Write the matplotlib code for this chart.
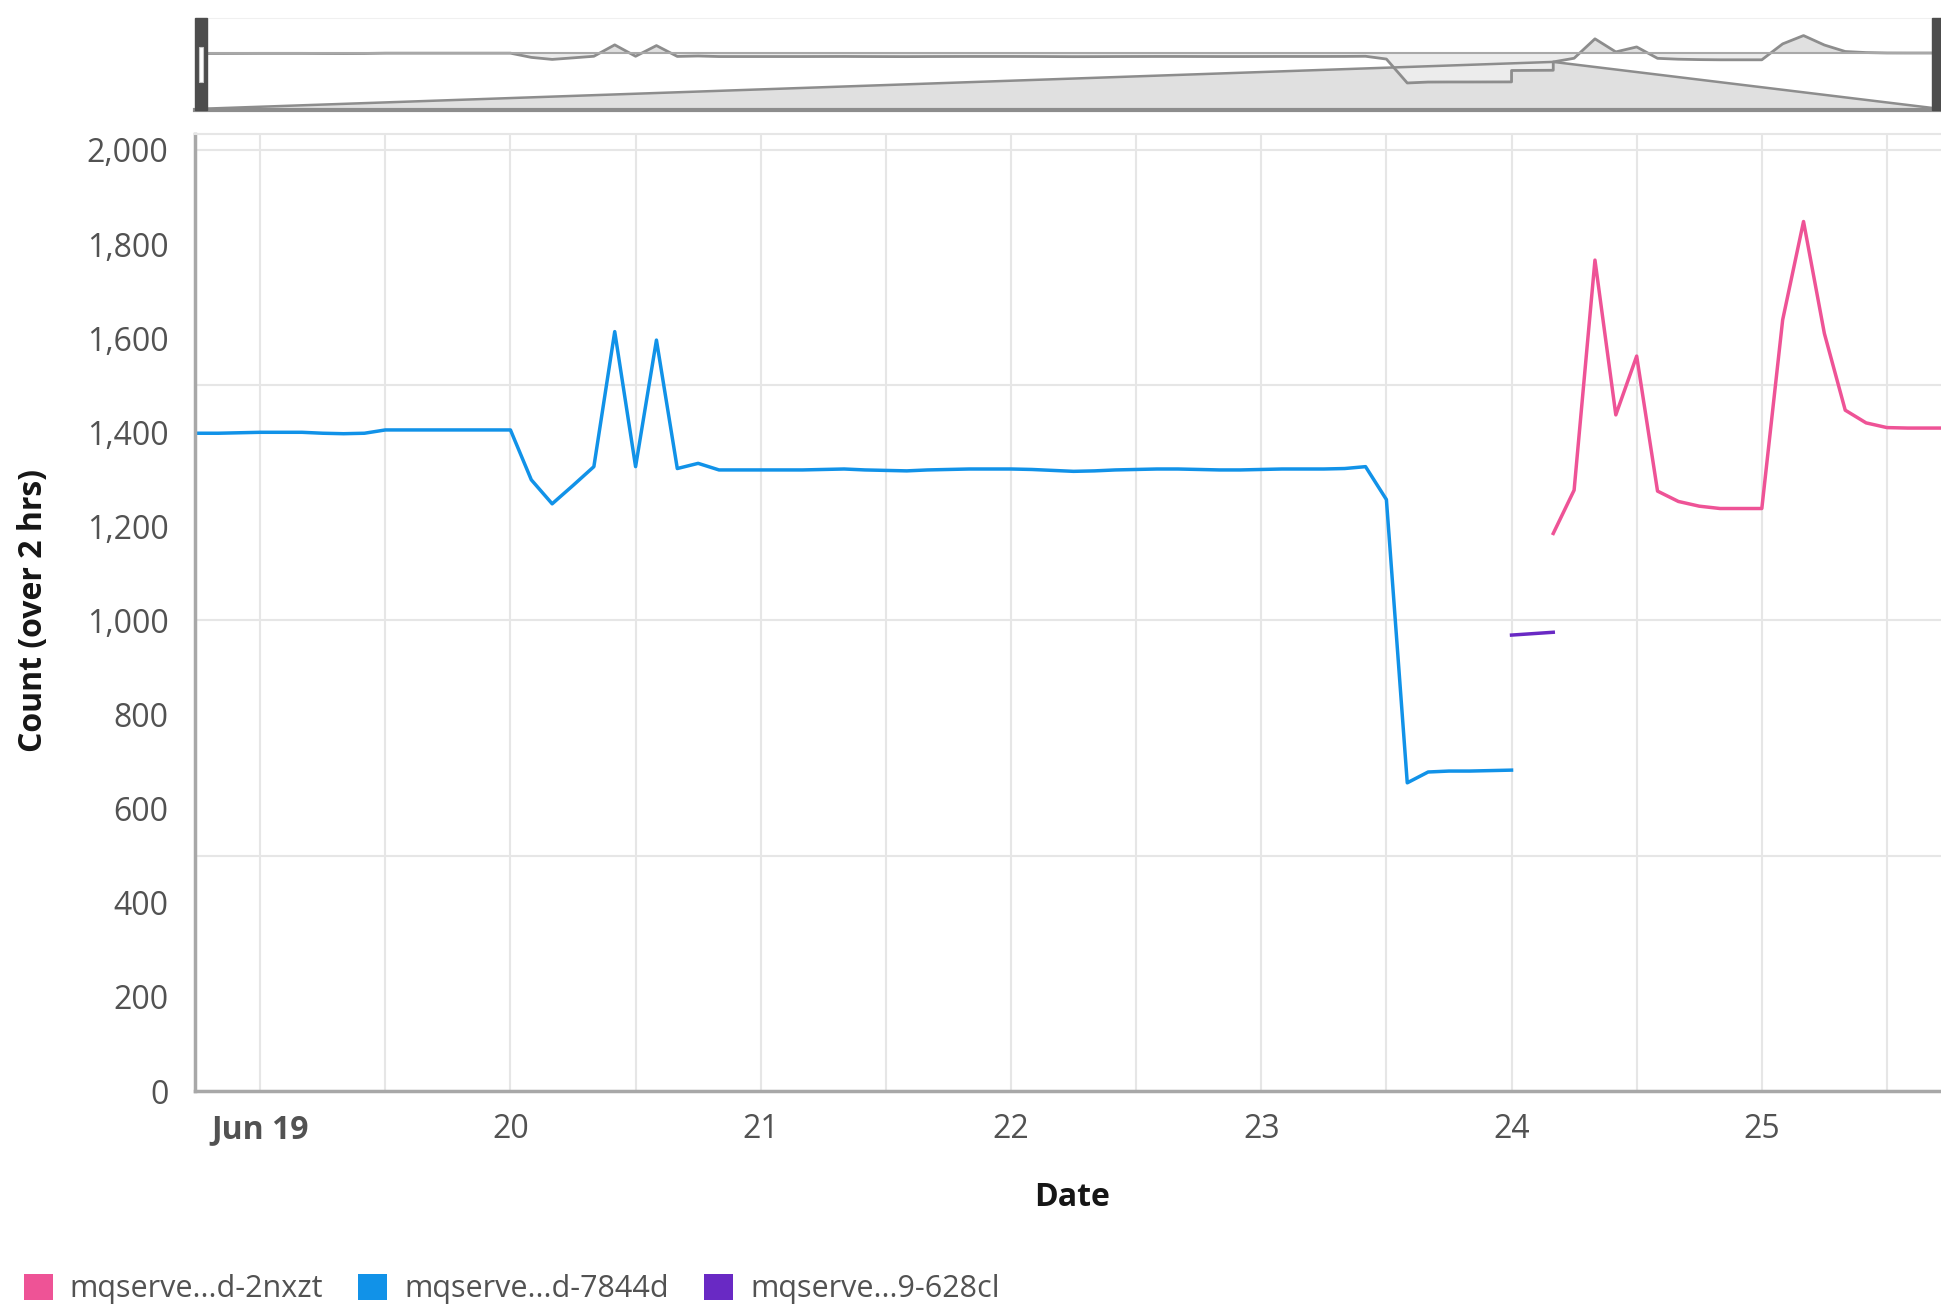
import numpy as np
import pandas as pd
import matplotlib
matplotlib.use("Agg")
import matplotlib.pyplot as plt
from matplotlib.patches import Patch, Rectangle
from matplotlib.ticker import MultipleLocator, FuncFormatter
import matplotlib.dates as mdates

plt.rcParams["font.family"] = ["Open Sans", "DejaVu Sans"]

# ---- data (count over 2 hrs, one value every 2 hours) ----
blue_start = "2023-06-18 18:00"
blue_vals = [1398, 1398, 1399,
             1400, 1400, 1400, 1398, 1397, 1398, 1405, 1405, 1405, 1405, 1405, 1405,
             1405, 1299, 1248, 1287, 1327, 1614, 1327, 1596, 1323, 1334, 1320, 1320,
             1320, 1320, 1320, 1321, 1322, 1320, 1319, 1318, 1320, 1321, 1322, 1322,
             1322, 1321, 1319, 1317, 1318, 1320, 1321, 1322, 1322, 1321, 1320, 1320,
             1321, 1322, 1322, 1322, 1323, 1327, 1257, 655, 678, 680, 680, 681,
             682]

purple_start = "2023-06-24 00:00"
purple_vals = [969, 972, 975]

pink_start = "2023-06-24 04:00"
pink_vals = [1185, 1277, 1766, 1437, 1562, 1275, 1253, 1243, 1238, 1238,
             1238, 1639, 1848, 1610, 1447, 1420, 1410, 1409, 1409, 1409]

series_names = ["mqserve...d-2nxzt", "mqserve...d-7844d", "mqserve...9-628cl"]
series_colors = ["#ee5396", "#1192e8", "#6929c4"]

day_ticks = pd.date_range("2023-06-19", "2023-06-25", freq="D")
x_left = pd.Timestamp("2023-06-18 17:45")
x_right = pd.Timestamp("2023-06-25 17:11")

blue_t = pd.date_range(blue_start, periods=len(blue_vals), freq="2h")
purple_t = pd.date_range(purple_start, periods=len(purple_vals), freq="2h")
pink_t = pd.date_range(pink_start, periods=len(pink_vals), freq="2h")

W, H = 1941, 1308
fig = plt.figure(figsize=(W / 100, H / 100), dpi=100)

# ---- main chart ----
ax = fig.add_axes([195 / W, 217 / H, 1 - 195 / W, (1091 - 134) / H])
ax.plot(blue_t, blue_vals, color=series_colors[1], lw=2.5)
ax.plot(purple_t, purple_vals, color=series_colors[2], lw=2.5)
ax.plot(pink_t, pink_vals, color=series_colors[0], lw=2.5)

ax.set_xlim(x_left, x_right)
ax.set_ylim(0, 2034)
ax.xaxis.remove_overlapping_locs = False
ax.yaxis.remove_overlapping_locs = False
ax.yaxis.set_major_locator(MultipleLocator(200))
ax.yaxis.set_minor_locator(MultipleLocator(500))
ax.yaxis.set_major_formatter(FuncFormatter(lambda v, p: f"{int(v):,}"))
ax.set_xticks(day_ticks)
ax.xaxis.set_minor_locator(mdates.HourLocator(byhour=[0, 12]))
ax.set_xticklabels(["Jun 19"] + [str(d.day) for d in day_ticks[1:]])
ax.get_xticklabels()[0].set_fontweight("bold")
ax.get_xticklabels()[0].set_color("#393939")

ax.grid(False)
ax.grid(which="minor", color="#e6e6e6", lw=1.5)
ax.tick_params(which="both", length=0)
ax.tick_params(axis="y", labelsize=23, labelcolor="#525252", pad=19)
ax.tick_params(axis="x", labelsize=23, labelcolor="#525252", pad=16)
ax.set_axisbelow(True)

ax.spines["right"].set_visible(False)
ax.spines["top"].set_color("#e6e6e6")
ax.spines["top"].set_linewidth(1.5)
ax.spines["left"].set_color("#a8a8a8")
ax.spines["left"].set_linewidth(2.5)
ax.spines["bottom"].set_color("#a8a8a8")
ax.spines["bottom"].set_linewidth(2.5)

fig.text(34 / W, 1 - 611 / H, "Count (over 2 hrs)", rotation=90, ha="center",
         va="center", fontsize=23, fontweight="bold", color="#161616")
fig.text(1072 / W, 1 - 1197 / H, "Date", ha="center", va="center",
         fontsize=23, fontweight="bold", color="#161616")

# ---- zoom bar / navigator ----
nav = fig.add_axes([195 / W, (H - 110) / H, 1 - 195 / W, 92 / H])
nav.set_xlim(x_left, x_right)
nav.set_ylim(-25, 2290)
all_t = list(blue_t) + list(purple_t) + list(pink_t)
all_v = blue_vals + purple_vals + pink_vals
tri_t = [x_left, pink_t[0], x_right]
tri_v = [0, pink_vals[0], 0]
nav.fill_between(tri_t, 0, tri_v, color="#e0e0e0", lw=0)
nav.plot(tri_t, tri_v, color="#8d8d8d", lw=1.8)
tri_interp = np.interp(mdates.date2num(all_t), mdates.date2num(tri_t), tri_v)
nav.fill_between(all_t, all_v, tri_interp, where=np.array(all_v) < tri_interp,
                 color="white", lw=0, interpolate=True)
nav.fill_between(all_t, all_v, 1405, where=np.array(all_v) > 1405,
                 color="#e0e0e0", lw=0, interpolate=True)
nav.fill_between(all_t, all_v, 1405, where=np.array(all_v) < 1405,
                 color="#ececec", lw=0, interpolate=True)
nav.plot(all_t, all_v, color="#8d8d8d", lw=2)
nav.axhline(1405, color="#a8a8a8", lw=1.5)
nav.set_xticks([])
nav.set_yticks([])
for s in ["left", "right"]:
    nav.spines[s].set_visible(False)
nav.spines["top"].set_color("#f0f0f0")
nav.spines["bottom"].set_color("#8d8d8d")
nav.spines["bottom"].set_linewidth(3)
nav.add_patch(Rectangle((0, 0), 12 / 1746, 1, transform=nav.transAxes,
                        color="#4d4d4d", clip_on=False, zorder=5))
nav.add_patch(Rectangle((3.5 / 1746, 0.3), 4 / 1746, 0.38, transform=nav.transAxes,
                        facecolor="white", edgecolor="#c6c6c6", lw=0.8,
                        clip_on=False, zorder=6))
nav.add_patch(Rectangle((1 - 9 / 1746, 0), 9 / 1746, 1, transform=nav.transAxes,
                        color="#4d4d4d", clip_on=False, zorder=5))

# ---- legend ----
handles = [Patch(facecolor=c, edgecolor="none") for c in series_colors]
fig.legend(handles, series_names, loc="center left", bbox_to_anchor=(24 / W, 1 - 1289 / H),
           ncol=3, frameon=False, fontsize=22, labelcolor="#525252",
           handlelength=0.95, handleheight=0.95, handletextpad=0.55,
           columnspacing=1.15, borderpad=0, borderaxespad=0)

fig.savefig("out.png", dpi=100)
